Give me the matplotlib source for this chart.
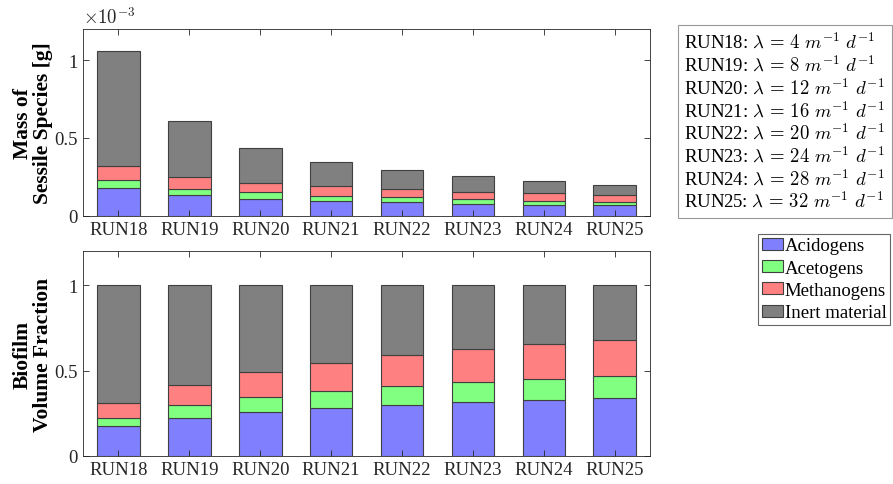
import numpy as np
import matplotlib.pyplot as plt
from matplotlib.patches import Patch
from matplotlib.lines import Line2D

# ===================== DATA =====================
runs = ['RUN18', 'RUN19', 'RUN20', 'RUN21', 'RUN22', 'RUN23', 'RUN24', 'RUN25']
lambdas = [4, 8, 12, 16, 20, 24, 28, 32]
species = ['Acidogens', 'Acetogens', 'Methanogens', 'Inert material']

# mass of sessile species [g] (x1e-3)
mass_acid = [0.180, 0.131, 0.107, 0.094, 0.090, 0.077, 0.071, 0.068]
mass_acet = [0.049, 0.042, 0.043, 0.033, 0.028, 0.030, 0.025, 0.019]
mass_meth = [0.092, 0.077, 0.062, 0.062, 0.055, 0.049, 0.049, 0.045]
mass_inert = [0.735, 0.356, 0.223, 0.156, 0.122, 0.098, 0.080, 0.069]

# biofilm volume fraction
vf_acid = [0.173, 0.224, 0.259, 0.282, 0.300, 0.317, 0.329, 0.342]
vf_acet = [0.049, 0.074, 0.087, 0.099, 0.109, 0.115, 0.120, 0.125]
vf_meth = [0.087, 0.116, 0.146, 0.164, 0.182, 0.193, 0.205, 0.212]
vf_inert = [0.691, 0.586, 0.508, 0.455, 0.409, 0.375, 0.346, 0.321]

colors = ['#8080ff', '#80ff80', '#ff8080', '#808080']
edge = '#404040'

# ===================== STYLE =====================
plt.rcParams['font.family'] = ['Liberation Serif', 'DejaVu Serif']
plt.rcParams['mathtext.fontset'] = 'cm'
plt.rcParams['font.size'] = 13.5
plt.rcParams['axes.edgecolor'] = '#262626'
plt.rcParams['xtick.color'] = '#262626'
plt.rcParams['ytick.color'] = '#262626'

fig = plt.figure(figsize=(8.93, 4.85), dpi=100)
ax1 = fig.add_axes([0.093, 0.553, 0.635, 0.385])
ax2 = fig.add_axes([0.093, 0.058, 0.635, 0.422])

x = np.arange(1, len(runs) + 1)


def stacked(ax, layers, scale=1.0):
    bottom = np.zeros(len(runs))
    for vals, c in zip(layers, colors):
        v = np.array(vals) * scale
        ax.bar(x, v, 0.6, bottom=bottom, color=c, edgecolor=edge, linewidth=0.8)
        bottom += v
    ax.set_xlim(0.5, len(runs) + 0.5)
    ax.set_xticks(x)
    ax.set_xticklabels(runs)
    ax.tick_params(direction='in', top=True, right=True, length=4, width=0.6, pad=4)
    for s in ax.spines.values():
        s.set_linewidth(0.6)


# ---------- Top: mass ----------
stacked(ax1, [mass_acid, mass_acet, mass_meth, mass_inert], scale=1e-3)
ax1.set_ylim(0, 1.2e-3)
ax1.set_yticks([0, 0.5e-3, 1e-3])
ax1.set_yticklabels(['0', '0.5', '1'])
ax1.text(0.0, 1.01, r'$\times 10^{-3}$', transform=ax1.transAxes, fontsize=13.5,
         color='#262626', va='bottom', ha='left')
ax1.set_ylabel('Mass of\nSessile Species [g]', fontweight='bold', fontsize=15.5,
               linespacing=1.0, labelpad=1)

# ---------- Bottom: volume fraction ----------
stacked(ax2, [vf_acid, vf_acet, vf_meth, vf_inert])
ax2.set_ylim(0, 1.2)
ax2.set_yticks([0, 0.5, 1])
ax2.set_yticklabels(['0', '0.5', '1'])
ax2.set_ylabel('Biofilm\nVolume Fraction', fontweight='bold', fontsize=15.5,
               linespacing=1.0, labelpad=1)

# ---------- Legends ----------
blank = [Line2D([], [], linestyle='none') for _ in runs]
labels = [f'{r}: ' + r'$\lambda\,=\,%d\ m^{-1}\ d^{-1}$' % l for r, l in zip(runs, lambdas)]
leg1 = fig.legend(blank, labels, loc='upper left', bbox_to_anchor=(0.759, 0.946),
                  handlelength=0, handletextpad=0, fancybox=False, edgecolor='#999999',
                  framealpha=1, labelspacing=0.12, fontsize=13.5, borderpad=0.35,
                  borderaxespad=0)
leg1.get_frame().set_linewidth(0.8)

handles = [Patch(facecolor=c, edgecolor=edge, linewidth=0.8) for c in colors]
leg2 = fig.legend(handles, species, loc='upper right', bbox_to_anchor=(0.997, 0.516),
                  handlelength=1.1, handleheight=0.6, handletextpad=0.1,
                  fancybox=False, edgecolor='#666666', framealpha=1,
                  labelspacing=0.28, fontsize=13.5, borderpad=0.2, borderaxespad=0)
leg2.get_frame().set_linewidth(0.8)

fig.savefig('out.png', dpi=100)
